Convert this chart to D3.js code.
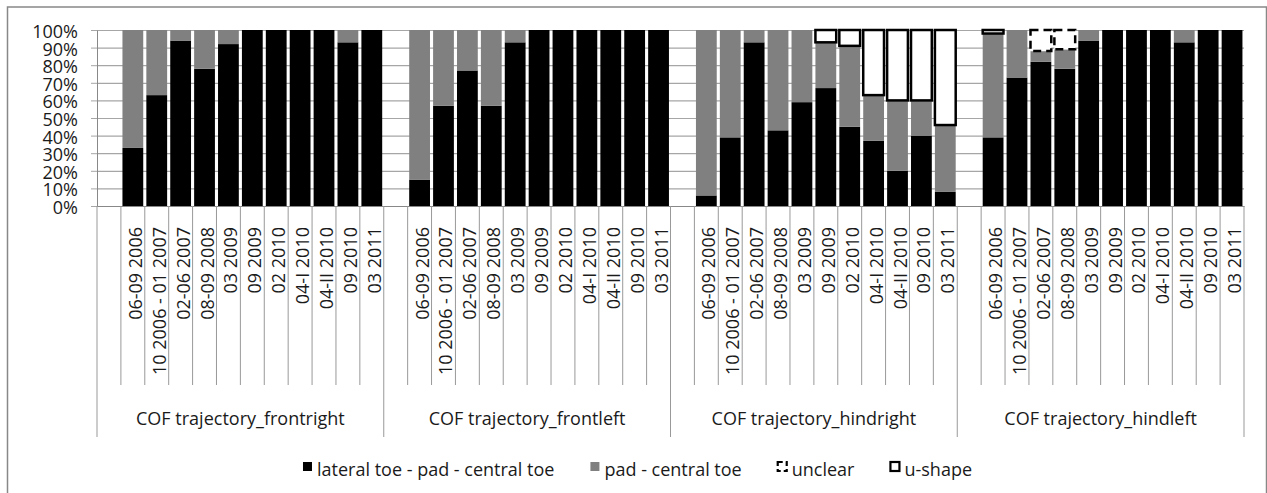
<!DOCTYPE html>
<html>
<head>
<meta charset="utf-8">
<script src="https://cdn.jsdelivr.net/npm/d3@7"></script>
<style>
  body { margin: 0; background: #fff; }
  svg text { font-family: "Open Sans", sans-serif; fill: #1a1a1a; }
</style>
</head>
<body>
<div id="chart"></div>
<script>
(function(){
  'use strict';

  // data
  var limbs = ['COF trajectory_frontright', 'COF trajectory_frontleft',
               'COF trajectory_hindright', 'COF trajectory_hindleft'];

  var periods = ['06-09 2006', '10 2006 - 01 2007', '02-06 2007', '08-09 2008',
                 '03 2009', '09 2009', '02 2010', '04-I 2010', '04-II 2010',
                 '09 2010', '03 2011'];

  var seriesNames = ['lateral toe - pad - central toe', 'pad - central toe', 'unclear', 'u-shape'];

  // one row per limb, one value per period (percent)
  var lateralToe = [
    [33, 63, 94, 78, 92, 100, 100, 100, 100, 93, 100],
    [15, 57, 77, 57, 93, 100, 100, 100, 100, 100, 100],
    [6, 39, 93, 43, 59, 67, 45, 37, 20, 40, 8],
    [39, 73, 82, 78, 94, 100, 100, 100, 93, 100, 100]
  ];
  var padCentral = [
    [67, 37, 6, 22, 8, 0, 0, 0, 0, 7, 0],
    [85, 43, 23, 43, 7, 0, 0, 0, 0, 0, 0],
    [94, 61, 7, 57, 41, 26, 46, 26, 40, 20, 38],
    [59, 27, 6, 11, 6, 0, 0, 0, 7, 0, 0]
  ];
  var unclear = [
    [0, 0, 0, 0, 0, 0, 0, 0, 0, 0, 0],
    [0, 0, 0, 0, 0, 0, 0, 0, 0, 0, 0],
    [0, 0, 0, 0, 0, 0, 0, 0, 0, 0, 0],
    [0, 0, 12, 11, 0, 0, 0, 0, 0, 0, 0]
  ];
  var uShape = [
    [0, 0, 0, 0, 0, 0, 0, 0, 0, 0, 0],
    [0, 0, 0, 0, 0, 0, 0, 0, 0, 0, 0],
    [0, 0, 0, 0, 0, 7, 9, 37, 40, 40, 54],
    [2, 0, 0, 0, 0, 0, 0, 0, 0, 0, 0]
  ];

  var yTicks = [0, 0.1, 0.2, 0.3, 0.4, 0.5, 0.6, 0.7, 0.8, 0.9, 1];

  var W = 1267, H = 493,
      left = 97, right = 1244, top = 30, bottom = 206;

  var keys = ['lat', 'pad', 'unc', 'ush'];
  var styles = {
    lat: {fill: '#000', stroke: 'none', width: 0, dash: null},
    pad: {fill: '#808080', stroke: 'none', width: 0, dash: null},
    unc: {fill: '#fff', stroke: '#000', width: 2.5, dash: '8,5'},
    ush: {fill: '#fff', stroke: '#000', width: 2.5, dash: null}
  };

  // every limb starts with one empty slot
  var slots = [], rows = [];
  limbs.forEach(function(limb, g) {
    slots.push({key: limb + '|', g: g, label: ''});
    periods.forEach(function(p, i) {
      var row = {key: limb + '|' + p, g: g, label: p,
                 lat: lateralToe[g][i], pad: padCentral[g][i],
                 unc: unclear[g][i], ush: uShape[g][i]};
      slots.push(row);
      rows.push(row);
    });
  });

  var svg = d3.select('#chart').append('svg')
    .attr('width', W)
    .attr('height', H);

  // chart frame
  svg.append('rect')
    .attr('x', 7.5).attr('y', 7)
    .attr('width', 1259).attr('height', 500)
    .attr('fill', 'none')
    .attr('stroke', '#888')
    .attr('stroke-width', 1.5);

  var pad = 0.13;
  var x = d3.scaleBand()
    .domain(slots.map(function(d) { return d.key; }))
    .range([left, right])
    .paddingInner(pad)
    .paddingOuter(pad / 2);
  var step = x.step();

  var y = d3.scaleLinear().domain([0, 1]).range([bottom, top]);

  // gridlines
  var grid = svg.append('g')
    .attr('transform', 'translate(' + left + ',0)')
    .call(d3.axisLeft(y).tickValues(yTicks).tickSize(-(right - left)).tickFormat(''));
  grid.select('.domain').remove();
  grid.selectAll('line').attr('stroke', '#a6a6a6').attr('stroke-width', 1.2);

  var stack = d3.stack().keys(keys).offset(d3.stackOffsetExpand);
  var layers = stack(rows);

  layers.forEach(function(layer) {
    var st = styles[layer.key];
    svg.append('g').selectAll('rect')
      .data(layer.filter(function(d) { return d[1] - d[0] > 0; }))
      .enter()
      .append('rect')
      .attr('x', function(d) { return x(d.data.key); })
      .attr('width', x.bandwidth())
      .attr('y', function(d) { return y(d[1]); })
      .attr('height', function(d) { return y(d[0]) - y(d[1]); })
      .attr('fill', st.fill)
      .attr('stroke', st.stroke)
      .attr('stroke-width', st.width)
      .attr('stroke-dasharray', st.dash);
  });

  // y axis
  var yAxis = svg.append('g')
    .attr('transform', 'translate(' + left + ',0)')
    .call(d3.axisLeft(y).tickValues(yTicks).tickSize(6).tickSizeOuter(0)
      .tickPadding(13).tickFormat(d3.format('.0%')));
  yAxis.select('.domain').attr('stroke', '#888');
  yAxis.selectAll('line').attr('stroke', '#a6a6a6');
  yAxis.selectAll('text').style('font-size', '18px').attr('dy', '0.42em');

  // category axis
  var labelOf = {};
  slots.forEach(function(d) { labelOf[d.key] = d.label; });
  var xAxis = svg.append('g')
    .attr('transform', 'translate(0,' + bottom + ')')
    .call(d3.axisBottom(x).tickSize(0).tickSizeOuter(0)
      .tickFormat(function(k) { return labelOf[k]; }));
  xAxis.select('.domain').attr('stroke', '#888');
  xAxis.selectAll('text')
    .style('font-size', '18px')
    .attr('text-anchor', 'end')
    .attr('transform', 'rotate(-90)')
    .attr('x', -21)
    .attr('y', 0)
    .attr('dy', '0.5em');

  // slot separators: long at limb boundaries, short elsewhere
  var seps = slots.map(function(d, i) { return {pos: left + i * step, big: i % (periods.length + 1) === 0}; });
  seps.push({pos: right, big: true});
  svg.append('g').selectAll('line')
    .data(seps)
    .enter()
    .append('line')
    .attr('x1', function(d) { return d.pos; })
    .attr('x2', function(d) { return d.pos; })
    .attr('y1', bottom)
    .attr('y2', function(d) { return d.big ? 437 : 385; })
    .attr('stroke', '#999')
    .attr('stroke-width', 1);

  // limb labels
  svg.append('g').selectAll('text')
    .data(limbs)
    .enter()
    .append('text')
    .attr('x', function(d, g) {
      var n = periods.length + 1;
      return left + (g * n + n / 2) * step;
    })
    .attr('y', 425)
    .attr('text-anchor', 'middle')
    .style('font-size', '18px')
    .text(function(d) { return d; });

  // legend
  var legend = svg.append('g');
  var items = legend.selectAll('g')
    .data(seriesNames)
    .enter()
    .append('g');
  items.append('rect')
    .attr('x', 1).attr('y', 462)
    .attr('width', 9).attr('height', 9)
    .attr('fill', function(d, i) { return styles[keys[i]].fill; })
    .attr('stroke', function(d, i) { return i > 1 ? '#000' : 'none'; })
    .attr('stroke-width', 2.2)
    .attr('stroke-dasharray', function(d, i) { return i === 2 ? '5,3' : null; });
  items.append('text')
    .attr('x', 15)
    .attr('y', 476)
    .style('font-size', '18px')
    .text(function(d) { return d; });

  var xpos = 0;
  items.each(function() {
    var g = d3.select(this);
    g.attr('transform', 'translate(' + xpos + ',0)');
    xpos += 15 + g.select('text').node().getComputedTextLength() + 35;
  });
  var total = xpos - 35;
  legend.attr('transform', 'translate(' + (637 - total / 2) + ',0)');

}());
</script>
</body>
</html>
